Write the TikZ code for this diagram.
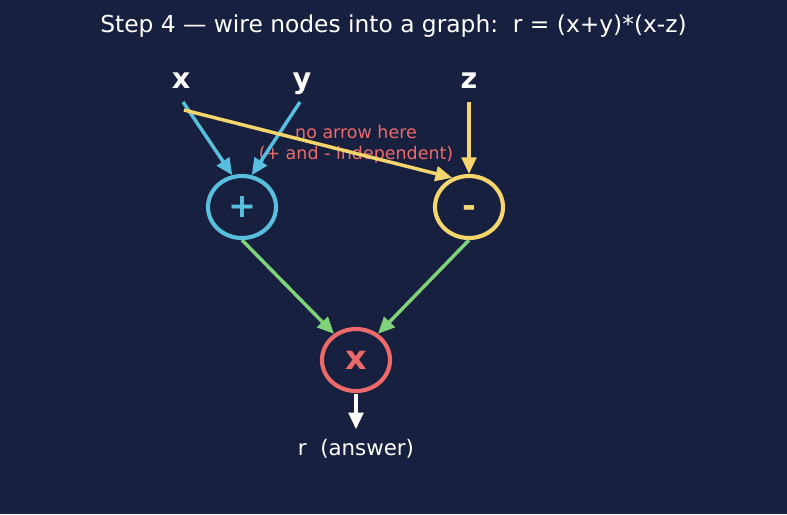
\documentclass[tikz,border=0pt]{standalone}
\usepackage{fontspec}
\setmainfont{DejaVu Sans}
\usetikzlibrary{shapes.geometric,arrows.meta}
\definecolor{bg}{RGB}{23,33,63}
\definecolor{cblue}{RGB}{88,192,222}
\definecolor{cyellow}{RGB}{245,214,108}
\definecolor{cgreen}{RGB}{128,210,122}
\definecolor{cred}{RGB}{238,106,106}
\frenchspacing
\tikzset{
  opnode/.style={ellipse,draw=#1,text=#1,fill=bg,line width=3.1pt,minimum width=51pt,minimum height=46.5pt,inner sep=0pt,font=\fontsize{25}{30}\selectfont\bfseries},
  varlabel/.style={text=white,anchor=base,inner sep=0pt,font=\fontsize{21.5}{26}\selectfont\bfseries},
  conn/.style={draw=#1,line width=2.6pt,-{Triangle[length=12.5pt,width=11pt]}}
}
\begin{document}
\begin{tikzpicture}[x=0.75pt,y=-0.75pt]
\fill[bg] (0,0) rectangle (787,514);
\useasboundingbox (0,0) rectangle (787,514);
\node[text=white,anchor=base,inner sep=0pt,font=\fontsize{17.5}{21}\selectfont] (title) at (393.5,32) {Step 4 — wire nodes into a graph:~~r = (x+y)*(x-z)};
\node[varlabel] (xl) at (181,88) {x};
\node[varlabel] (yl) at (302,88) {y};
\node[varlabel] (zl) at (469,88) {z};
\coordinate (xt) at (183,102);
\coordinate (xt2) at (184,110);
\coordinate (yt) at (300,102);
\coordinate (zt) at (469,102);
\node[opnode=cblue] (plus) at (242,207) {+};
\node[opnode=cyellow] (minus) at (469,207) {\vphantom{+}-};
\node[opnode=cred] (times) at (356,360) {x};
\node[text=cred,align=center,inner sep=0pt,font=\fontsize{13.1}{15.75}\selectfont] (note) at (356,144) {no arrow here\\(+ and - independent)};
\node[text=white,anchor=base,inner sep=0pt,font=\fontsize{16}{19}\selectfont] (ans) at (356,455) {r~~(answer)};
\draw[conn=cblue] (xt) -- (plus.107);
\draw[conn=cblue] (yt) -- (plus.73);
\draw[conn=cyellow] (xt2) -- (minus.120);
\draw[conn=cyellow] (zt) -- (minus.north);
\draw[conn=cgreen] (plus.south) -- (times.130);
\draw[conn=cgreen] (minus.south) -- (times.50);
\draw[conn=white,shorten <=1pt,shorten >=7pt] (times.south) -- (ans.north);
\end{tikzpicture}
\end{document}
